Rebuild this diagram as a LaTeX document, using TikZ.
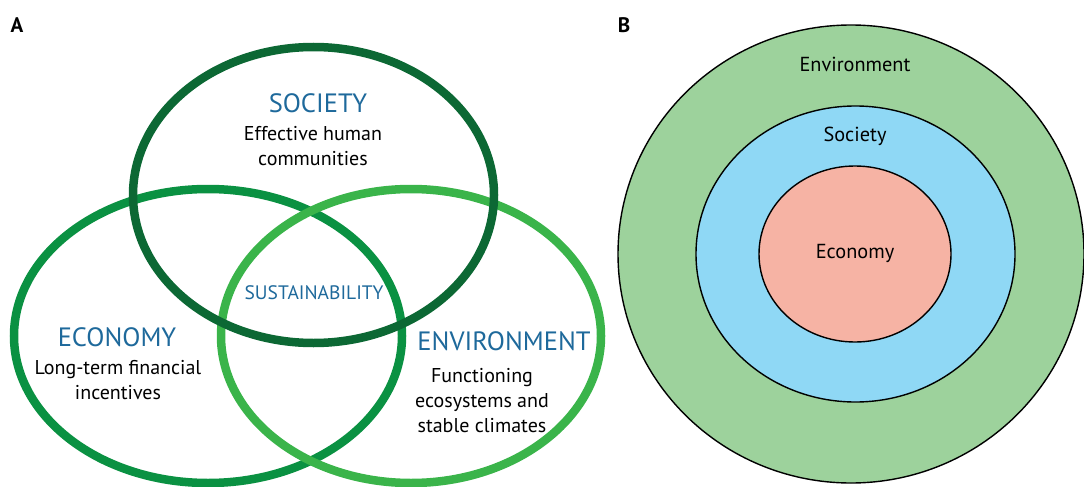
\documentclass[tikz,border=0pt]{standalone}
\usepackage{fontspec}
\setmainfont{PT Sans}
\definecolor{socgreen}{RGB}{12,104,52}
\definecolor{ecogreen}{RGB}{10,145,66}
\definecolor{envgreen}{RGB}{58,180,74}
\definecolor{titleblue}{RGB}{30,105,155}
\definecolor{outerfill}{RGB}{157,210,156}
\definecolor{midfill}{RGB}{143,216,245}
\definecolor{innerfill}{RGB}{246,179,164}
\tikzset{
  ring/.style={line width=8.5pt},
  title/.style={text=titleblue, font=\fontsize{26.5}{30}\selectfont, inner sep=0pt, anchor=center},
  small/.style={text=titleblue, font=\fontsize{19.5}{24}\selectfont, inner sep=0pt, anchor=center},
  body/.style={text=black, font=\fontsize{20}{25}\selectfont, align=center, inner sep=0pt, anchor=center},
  btext/.style={text=black, font=\fontsize{20.3}{24}\selectfont, inner sep=0pt, anchor=center},
  panel/.style={font=\bfseries\fontsize{21}{24}\selectfont, inner sep=0pt, anchor=center},
  layer/.style={draw=black, line width=1.4pt}
}
\begin{document}
\begin{tikzpicture}[x=1pt,y=-1pt]
\useasboundingbox (0,0) rectangle (1084,487);
% Panel A
\node[panel] (labA) at (17,25) {A};
\draw[ring, ecogreen] (208,336) ellipse [x radius=194pt, y radius=147pt];
\draw[ring, envgreen] (411,336) ellipse [x radius=190pt, y radius=147pt];
\draw[ring, socgreen] (313.5,195) ellipse [x radius=180.5pt, y radius=148pt];
\node[title] (soc) at (318,103) {SOCIETY};
\node[body] (socd) at (313,146) {Effective human\\communities};
\node[small] (sus) at (314,293) {SUSTAINABILITY};
\node[title] (eco) at (117,337) {ECONOMY};
\node[body] (ecod) at (118,380) {Long-term financial\\incentives};
\node[title] (env) at (504,341) {ENVIRONMENT};
\node[body] (envd) at (482,401) {Functioning\\ecosystems and\\stable climates};
% Panel B
\node[panel] (labB) at (624,25) {B};
\draw[layer, fill=outerfill] (851,254) ellipse [x radius=233pt, y radius=229pt];
\draw[layer, fill=midfill] (855.5,254) ellipse [x radius=159.5pt, y radius=148pt];
\draw[layer, fill=innerfill] (855,254) ellipse [x radius=96pt, y radius=88pt];
\node[btext] (benv) at (855,64) {Environment};
\node[btext] (bsoc) at (855,136) {Society};
\node[btext] (beco) at (855,253) {Economy};
\end{tikzpicture}
\end{document}
